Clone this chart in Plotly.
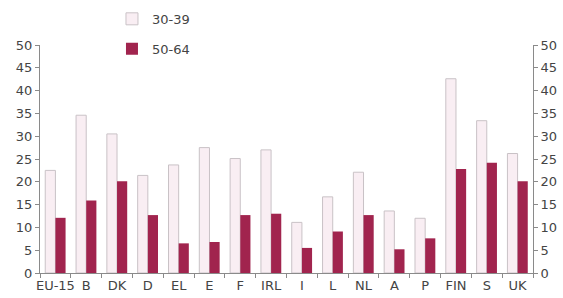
import plotly.graph_objects as go

categories = ["EU-15", "B", "DK", "D", "EL", "E", "F", "IRL", "I", "L", "NL", "A", "P", "FIN", "S", "UK"]
age_30_39 = [22.5, 34.6, 30.5, 21.4, 23.7, 27.5, 25.1, 27.0, 11.1, 16.7, 22.1, 13.6, 12.0, 42.6, 33.4, 26.2]
age_50_64 = [12.1, 15.9, 20.1, 12.7, 6.5, 6.8, 12.7, 13.0, 5.5, 9.1, 12.7, 5.2, 7.6, 22.8, 24.2, 20.1]
y_ticks = [0, 5, 10, 15, 20, 25, 30, 35, 40, 45, 50]

font = dict(family="DejaVu Sans", size=13, color="#444444")
axis_col = "#8a8a8a"

fig = go.Figure()
fig.add_trace(go.Bar(
    x=categories, y=age_30_39, name="30-39", legendgroup="a",
    marker=dict(color="#f9eef3", line=dict(color="#c9c2c6", width=1)),
))
fig.add_trace(go.Bar(
    x=categories, y=age_50_64, name="50-64", legendgroup="b",
    marker=dict(color="#a1244e", line=dict(width=0)),
))
fig.add_trace(go.Bar(x=categories, y=[None] * len(categories), yaxis="y2",
                     showlegend=False, hoverinfo="skip"))

fig.update_layout(
    width=563, height=298,
    margin=dict(l=40, r=30, t=45, b=25, autoexpand=False),
    paper_bgcolor="white", plot_bgcolor="white",
    font=font,
    barmode="group", bargap=0.34, bargroupgap=0.0,
    showlegend=True,
    legend=dict(x=0.146, y=0.987, xanchor="left", yanchor="top", yref="container",
                orientation="v", traceorder="grouped", tracegroupgap=10,
                font=dict(family="DejaVu Sans", size=13, color="#444444"),
                bgcolor="rgba(0,0,0,0)", itemwidth=30),
    xaxis=dict(showline=True, linecolor=axis_col, linewidth=1, tickangle=0,
               ticks="outside", ticklen=4, tickcolor=axis_col, tickson="boundaries",
               showgrid=False, zeroline=False, tickfont=font, automargin=False),
    yaxis=dict(range=[0, 50], tickvals=y_ticks, showline=True, linecolor=axis_col,
               linewidth=1, ticks="outside", ticklen=4, tickcolor=axis_col,
               showgrid=False, zeroline=False, tickfont=font, automargin=False),
    yaxis2=dict(range=[0, 50], tickvals=y_ticks, overlaying="y", side="right",
                showline=True, linecolor=axis_col, linewidth=1, ticks="outside",
                ticklen=4, tickcolor=axis_col, showgrid=False, zeroline=False,
                tickfont=font, automargin=False),
)

fig.write_html("out.html", config={"displayModeBar": False},
               post_script="document.body.style.margin='0';")
